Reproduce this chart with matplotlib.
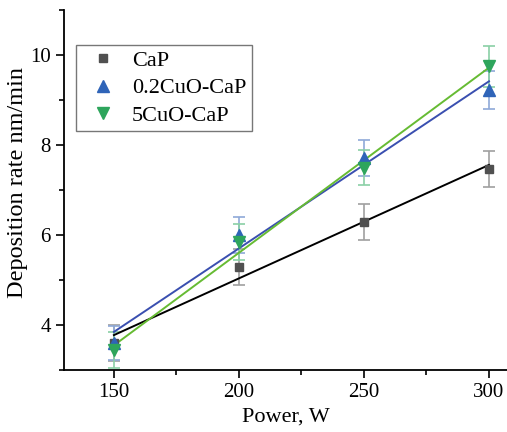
import numpy as np
import matplotlib.pyplot as plt
from matplotlib.ticker import MultipleLocator

plt.rcParams['font.family'] = ['Liberation Serif', 'DejaVu Serif']
plt.rcParams['mathtext.fontset'] = 'stix'

power = np.array([150, 200, 250, 300])

# deposition rate, nm/min
cap = np.array([3.60, 5.30, 6.30, 7.47])
cap_err = np.array([0.40, 0.40, 0.40, 0.40])
cu02 = np.array([3.60, 6.00, 7.71, 9.22])
cu02_err = np.array([0.38, 0.40, 0.40, 0.42])
cu5 = np.array([3.44, 5.85, 7.50, 9.75])
cu5_err = np.array([0.40, 0.40, 0.38, 0.45])

series = [
    ("CaP", cap, cap_err, "s", "#505050", "#a0a0a0", "black", 6),
    ("0.2CuO-CaP", cu02, cu02_err, "^", "#2f64b8", "#8fa9d8", "#3a4fb0", 8),
    ("5CuO-CaP", cu5, cu5_err, "v", "#2ea55c", "#8ad0a6", "#66bb33", 8),
]

fig = plt.figure(figsize=(5.07, 4.32), dpi=100)
ax = fig.add_axes([0.126, 0.1435, 0.874, 0.833])

handles = []
for name, y, err, mk, mc, ec, lc, ms in series:
    ax.errorbar(power, y, yerr=err, fmt="none", ecolor=ec, elinewidth=1.2,
                capsize=4, capthick=1.2, zorder=2)
    k, b = np.polyfit(power, y, 1)
    xf = np.array([power[0], power[-1]])
    ax.plot(xf, k * xf + b, color=lc, lw=1.4, zorder=3)
    h, = ax.plot(power, y, mk, color=mc, ms=ms, mec=mc, ls="none", zorder=4, label=name)
    handles.append(h)

ax.set_xlim(130, 307.2)
ax.set_ylim(3, 11)
ax.xaxis.set_major_locator(MultipleLocator(50))
ax.xaxis.set_minor_locator(MultipleLocator(25))
ax.yaxis.set_major_locator(MultipleLocator(2))
ax.yaxis.set_minor_locator(MultipleLocator(1))
ax.tick_params(which="major", direction="out", length=6, width=1.2, labelsize=15)
ax.tick_params(which="minor", direction="out", length=3.5, width=1.2)
for s in ["top", "right"]:
    ax.spines[s].set_visible(False)
for s in ["left", "bottom"]:
    ax.spines[s].set_linewidth(1.3)

ax.set_xlabel("Power, W", fontsize=16, labelpad=4)
ax.set_ylabel("Deposition rate nm/min", fontsize=17.5)
ax.yaxis.set_label_coords(-0.08, 0.52)

leg = ax.legend(handles=handles, loc="upper left", bbox_to_anchor=(0.027, 0.903),
                fontsize=16, frameon=True, fancybox=False, edgecolor="#555555",
                handlelength=1.9, handletextpad=0.37, borderpad=0.25, labelspacing=0.3,
                borderaxespad=0)
leg.get_frame().set_linewidth(1.0)

fig.savefig("out.png", dpi=100)
